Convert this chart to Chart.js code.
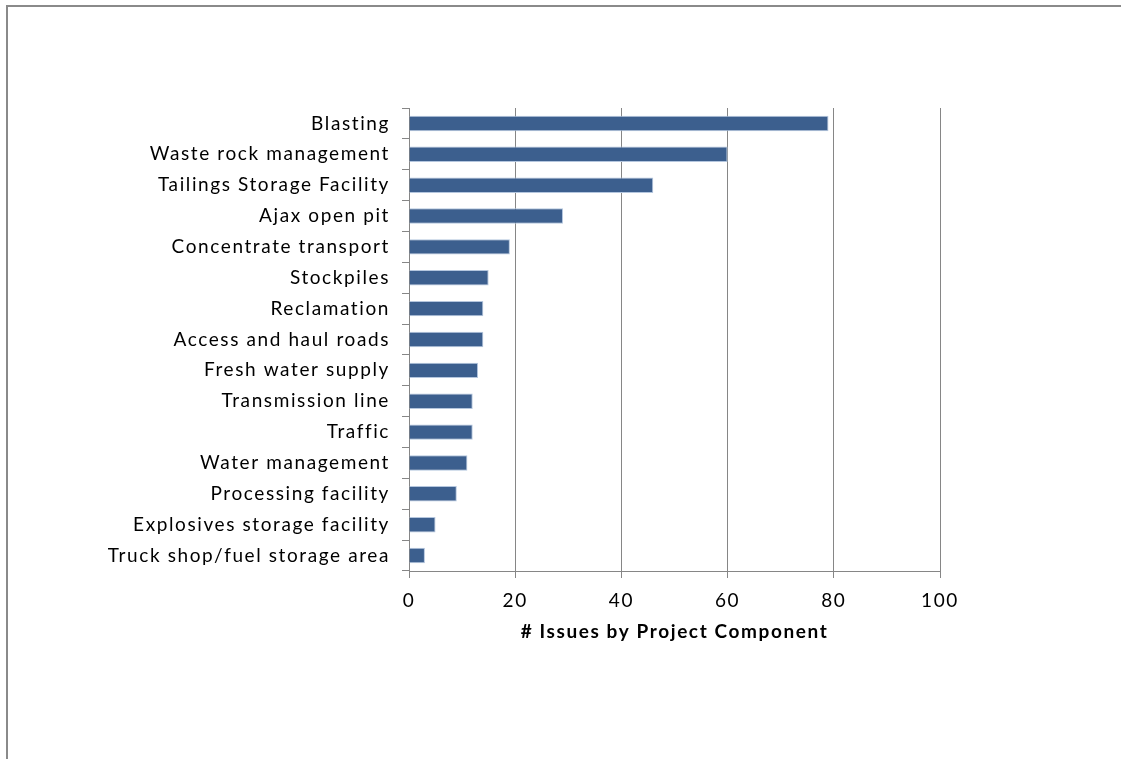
<!DOCTYPE html>
<html>
<head>
<meta charset="utf-8">
<script src="https://cdn.jsdelivr.net/npm/chart.js@4/dist/chart.umd.min.js"></script>
<style>
  html, body { margin: 0; padding: 0; background: #ffffff; }
  #wrap { position: relative; width: 1122px; height: 759px; overflow: hidden; }
  #frame { position: absolute; left: 6px; top: 5px; right: 1px; bottom: -4px;
           border-top: 2px solid #8a8a8a; border-left: 2px solid #8a8a8a; }
  canvas { position: absolute; left: 0; top: 0; }
</style>
</head>
<body>
<div id="wrap">
  <div id="frame"></div>
  <canvas id="chart" width="1122" height="759"></canvas>
</div>
<script>
// Project components and how many issues were raised for each
const components = [
  'Blasting',
  'Waste rock management',
  'Tailings Storage Facility',
  'Ajax open pit',
  'Concentrate transport',
  'Stockpiles',
  'Reclamation',
  'Access and haul roads',
  'Fresh water supply',
  'Transmission line',
  'Traffic',
  'Water management',
  'Processing facility',
  'Explosives storage facility',
  'Truck shop/fuel storage area'
];
const issueCounts = [79, 60, 46, 29, 19, 15, 14, 14, 13, 12, 12, 11, 9, 5, 3];
const xTicks = [0, 20, 40, 60, 80, 100];
const xTitle = '# Issues by Project Component';

const GRID = '#868686';
const FONT = 'Lato, "Open Sans", sans-serif';

// Slightly open letter spacing for all chart text
const spacedText = {
  id: 'spacedText',
  beforeDraw(chart) { chart.ctx.letterSpacing = '1.6px'; }
};

new Chart(document.getElementById('chart'), {
  type: 'bar',
  plugins: [spacedText],
  data: {
    labels: components,
    datasets: [{
      data: issueCounts,
      backgroundColor: '#3c5f8e',
      borderColor: '#b4c6de',
      borderWidth: 1,
      borderSkipped: 'start',
      barPercentage: 0.5,
      categoryPercentage: 1.0
    }]
  },
  options: {
    indexAxis: 'y',
    responsive: false,
    animation: false,
    layout: { padding: { left: 0, top: 108, right: 182, bottom: 108 } },
    plugins: { legend: { display: false }, tooltip: { enabled: false } },
    scales: {
      x: {
        min: 0,
        max: 100,
        afterBuildTicks: (scale) => { scale.ticks = xTicks.map(v => ({ value: v })); },
        afterFit: (scale) => { scale.height = 80; },
        grid: { color: GRID, lineWidth: 1, tickLength: 7, drawTicks: true, tickColor: GRID },
        border: { color: GRID, width: 1 },
        ticks: { color: '#000000', padding: 11, font: { family: FONT, size: 19 } },
        title: {
          display: true,
          text: xTitle,
          color: '#000000',
          font: { family: FONT, size: 19, weight: 'bold' },
          padding: { top: 0, bottom: 8 }
        }
      },
      y: {
        afterFit: (scale) => { scale.width = 409; },
        grid: { offset: true, drawOnChartArea: false, drawTicks: true, tickLength: 7, tickColor: GRID, color: GRID },
        border: { color: GRID, width: 1 },
        ticks: { color: '#000000', padding: 12, font: { family: FONT, size: 19 }, autoSkip: false }
      }
    }
  }
});
</script>
</body>
</html>
